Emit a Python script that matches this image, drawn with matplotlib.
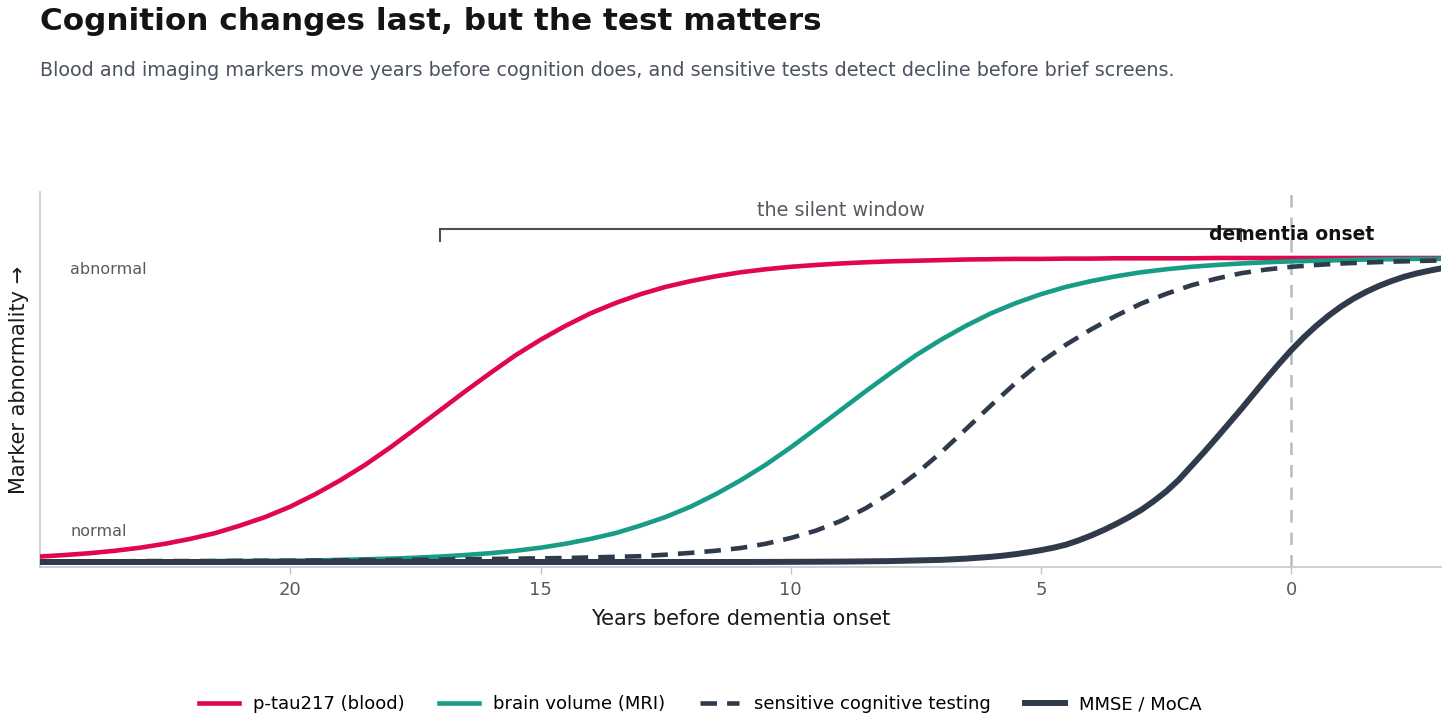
import numpy as np
import matplotlib
matplotlib.use("Agg")
import matplotlib.pyplot as plt

plt.rcParams['font.family'] = ['DejaVu Sans']

# years before onset, read every half year off the chart (25 -> -3)
years = np.arange(25, -3.01, -0.5)

ptau = [0.018, 0.023, 0.029, 0.037, 0.047, 0.060, 0.076, 0.095, 0.120, 0.148,
        0.182, 0.223, 0.269, 0.320, 0.377, 0.438, 0.500, 0.562, 0.622, 0.680,
        0.731, 0.777, 0.818, 0.852, 0.881, 0.905, 0.924, 0.940, 0.953, 0.963,
        0.971, 0.977, 0.982, 0.986, 0.989, 0.991, 0.993, 0.995, 0.996, 0.997,
        0.997, 0.998, 0.998, 0.999, 0.999, 0.999, 0.999, 1.000, 1.000, 1.000,
        1.000, 1.000, 1.000, 1.000, 1.000, 1.000, 1.000]

mri = [0.000, 0.000, 0.001, 0.001, 0.001, 0.002, 0.002, 0.003, 0.003, 0.004,
       0.004, 0.005, 0.007, 0.009, 0.011, 0.014, 0.018, 0.023, 0.029, 0.037,
       0.047, 0.060, 0.076, 0.095, 0.120, 0.148, 0.182, 0.223, 0.269, 0.320,
       0.377, 0.438, 0.500, 0.562, 0.622, 0.680, 0.731, 0.777, 0.818, 0.852,
       0.881, 0.905, 0.924, 0.940, 0.953, 0.963, 0.971, 0.977, 0.982, 0.986,
       0.989, 0.991, 0.993, 0.995, 0.996, 0.997, 0.997]

sensitive = [0.002, 0.002, 0.002, 0.002, 0.003, 0.003, 0.003, 0.003, 0.004, 0.004,
             0.004, 0.005, 0.005, 0.006, 0.006, 0.007, 0.008, 0.009, 0.010, 0.011,
             0.012, 0.013, 0.015, 0.017, 0.019, 0.024, 0.030, 0.037, 0.046, 0.060,
             0.079, 0.103, 0.135, 0.177, 0.228, 0.290, 0.360, 0.437, 0.515, 0.590,
             0.658, 0.715, 0.765, 0.810, 0.850, 0.882, 0.910, 0.932, 0.950, 0.962,
             0.971, 0.977, 0.982, 0.985, 0.988, 0.990, 0.992]

# MMSE is flat early on, then read every quarter year where it rises
mmse_years = [25, 24, 23, 22, 21, 20, 19, 18, 17, 16, 15, 14, 13, 12, 11, 10, 9, 8,
              7, 6.75, 6.5, 6.25, 6, 5.75, 5.5, 5.25, 5, 4.75, 4.5, 4.25, 4, 3.75,
              3.5, 3.25, 3, 2.75, 2.5, 2.25, 2, 1.75, 1.5, 1.25, 1, 0.75, 0.5, 0.25,
              0, -0.25, -0.5, -0.75, -1, -1.25, -1.5, -1.75, -2, -2.25, -2.5, -2.75, -3]
mmse = [0.000, 0.000, 0.000, 0.000, 0.000, 0.000, 0.000, 0.000, 0.000, 0.000,
        0.000, 0.000, 0.000, 0.000, 0.000, 0.0005, 0.0013, 0.003,
        0.007, 0.009, 0.011, 0.014, 0.017, 0.021, 0.026, 0.032, 0.039, 0.047,
        0.057, 0.071, 0.087, 0.105, 0.125, 0.147, 0.171, 0.200, 0.232, 0.270,
        0.315, 0.360, 0.407, 0.455, 0.503, 0.553, 0.603, 0.651, 0.697, 0.739,
        0.777, 0.811, 0.841, 0.867, 0.889, 0.908, 0.924, 0.938, 0.949, 0.958, 0.966]

labels = ['p-tau217 (blood)', 'brain volume (MRI)', 'sensitive cognitive testing', 'MMSE / MoCA']
colors = ['#e0064f', '#179c86', '#2f3a4b', '#2f3a4b']
xticks = [20, 15, 10, 5, 0]

fig = plt.figure(figsize=(14.56, 7.26), dpi=100)
ax = fig.add_axes([0.0275, 0.219, 0.9625, 0.5165])

ax.axvline(0, color='#b4bcc4', lw=1.8, ls=(0, (5, 4)), zorder=1)

ax.plot(years, ptau, color=colors[0], lw=3.3, label=labels[0], zorder=3)
ax.plot(years, mri, color=colors[1], lw=3.3, label=labels[1], zorder=3)
ax.plot(years, sensitive, color=colors[2], lw=3.3, ls=(0, (3.6, 2.2)), label=labels[2], zorder=4)
ax.plot(mmse_years, mmse, color=colors[3], lw=4.3, label=labels[3], zorder=5)

ax.set_xlim(25, -3)
ax.set_ylim(-0.0165, 1.217)
ax.set_xticks(xticks)
ax.set_xticklabels([str(t) for t in xticks])
ax.set_yticks([])
ax.tick_params(axis='x', colors='#c0c6cc', labelcolor='#555b63', labelsize=13, length=5, width=1, pad=5)
for s in ['top', 'right']:
    ax.spines[s].set_visible(False)
for s in ['left', 'bottom']:
    ax.spines[s].set_color('#c8ccd2')
    ax.spines[s].set_linewidth(1.3)

ax.set_xlabel('Years before dementia onset', fontsize=15, color='#1a1a1a', labelpad=7)
ax.set_ylabel('Marker abnormality \u2192', fontsize=15, color='#1a1a1a', labelpad=8)

ax.text(24.4, 0.963, 'abnormal', fontsize=11.5, color='#555b63', va='center', ha='left')
ax.text(24.4, 0.099, 'normal', fontsize=11.5, color='#555b63', va='center', ha='left')

# silent window bracket
ax.plot([17, 17, 1, 1], [1.056, 1.095, 1.095, 1.056], color='#4a4f56', lw=1.5,
        solid_joinstyle='miter', zorder=2)
ax.text(9, 1.155, 'the silent window', fontsize=13.8, color='#555b63', ha='center', va='center')
ax.text(0, 1.078, 'dementia onset', fontsize=13.5, fontweight='bold', color='#111111',
        ha='center', va='center', zorder=6)

fig.text(0.0275, 0.971, 'Cognition changes last, but the test matters', fontsize=22.4,
         fontweight='bold', color='#141414', ha='left', va='center')
fig.text(0.0275, 0.903, 'Blood and imaging markers move years before cognition does, '
         'and sensitive tests detect decline before brief screens.', fontsize=13.8,
         color='#4b5260', ha='left', va='center')

fig.legend(loc='center', bbox_to_anchor=(0.481, 0.03), ncol=4, frameon=False,
           fontsize=13, handlelength=2.2, columnspacing=1.9, handletextpad=0.8)

fig.savefig('out.png', dpi=100)
